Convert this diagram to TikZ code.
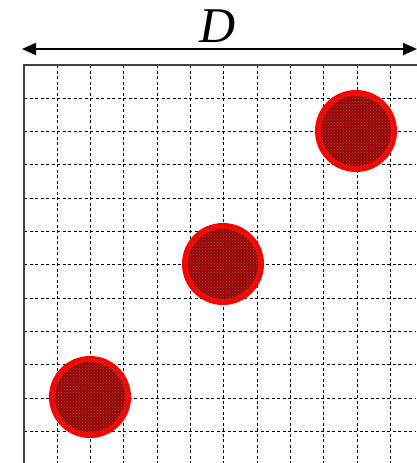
\documentclass[tikz,border=0pt]{standalone}
\usepackage{fontspec}
\setmainfont{Liberation Serif}
\usetikzlibrary{arrows.meta,patterns}
\definecolor{ringred}{RGB}{255,0,0}
\definecolor{coredred}{RGB}{165,0,0}
\tikzset{
  gridline/.style={black, line width=1pt, dash pattern=on 3pt off 2.5pt},
  frame/.style={black!75, line width=2pt},
  disc/.style={circle, minimum size=76pt, inner sep=0pt, draw=ringred, line width=6pt, fill=coredred,
    postaction={pattern=crosshatch dots, pattern color=black!60}},
  dimarrow/.style={black, line width=2pt, {Triangle[length=14pt,width=12pt]}-{Triangle[length=14pt,width=12pt]}}
}
\begin{document}
\begin{tikzpicture}[x=1pt,y=-1pt]
\useasboundingbox (0,0) rectangle (416,463);
\fill[white] (0,0) rectangle (416,463);
% grid
\foreach \i in {1,...,12} {
  \draw[gridline] (24,{65+33.3*\i}) -- (416,{65+33.3*\i});
}
\foreach \i in {1,...,12} {
  \draw[gridline] ({24+33.3*\i},65) -- ({24+33.3*\i},463);
}
% frame
\draw[frame] (24,463) -- (24,65) -- (417,65);
% discs
\node[disc] (c1) at (90,397) {};
\node[disc] (c2) at (223,264) {};
\node[disc] (c3) at (356,131) {};
% dimension
\coordinate (aL) at (22,49);
\coordinate (aR) at (417,49);
\draw[dimarrow] (aL) -- (aR);
\node[font=\itshape\fontsize{50}{50}\selectfont, anchor=base, inner sep=0pt] (D) at (218,42) {D};
\end{tikzpicture}
\end{document}
